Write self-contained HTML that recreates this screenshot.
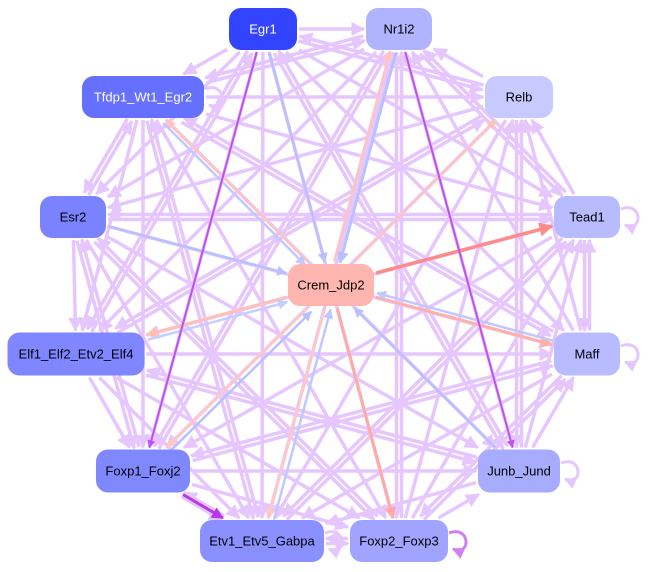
<!DOCTYPE html>
<html><head><style>
html,body{margin:0;padding:0;background:#fff;width:654px;height:572px;overflow:hidden}
svg{display:block}
text{font-family:"Liberation Sans",sans-serif;font-size:13px;text-anchor:middle;dominant-baseline:central}
</style></head><body>
<svg id="s" width="654" height="572" xmlns="http://www.w3.org/2000/svg">
<defs></defs>
<g id="e"></g>
<g id="n"></g>
</svg>
<script>
const N={
Egr1:[263,29,68,42,'#3344ff','#fff'],
Nr1i2:[399,29,66,42,'#b0b4ff','#000'],
Tfdp1_Wt1_Egr2:[143,97,122,42,'#6670ff','#fff'],
Relb:[519,97,68,42,'#c8caff','#000'],
Esr2:[73,217,66,42,'#7b82ff','#000'],
Tead1:[587,217,66,42,'#b8bbff','#000'],
Crem_Jdp2:[331,285,86,42,'#ffb6b0','#000'],
Elf1_Elf2_Etv2_Elf4:[76,354,137,43,'#7f86ff','#000'],
Maff:[587,354,66,43,'#b8bbff','#000'],
Foxp1_Foxj2:[143,471,94,43,'#8088ff','#000'],
Junb_Jund:[519,471,82,43,'#a8acff','#000'],
Etv1_Etv5_Gabpa:[262,541,124,42,'#8a90ff','#000'],
Foxp2_Foxp3:[399,541,98,42,'#a0a4ff','#000']};
const S='http://www.w3.org/2000/svg';
const svg=document.getElementById('s'),defs=svg.querySelector('defs'),E=document.getElementById('e'),G=document.getElementById('n');
const marks={};
function mk(c){if(marks[c])return marks[c];const id='m'+Object.keys(marks).length;
 const m=document.createElementNS(S,'marker');m.setAttribute('id',id);m.setAttribute('viewBox','0 0 10 10');
 m.setAttribute('refX','9');m.setAttribute('refY','5');m.setAttribute('markerWidth','4');m.setAttribute('markerHeight','4');
 m.setAttribute('markerUnits','strokeWidth');m.setAttribute('orient','auto');
 m.innerHTML='<path d="M0,0L10,5L0,10z" fill="'+c+'"/>';defs.appendChild(m);marks[c]=id;return id;}
function clip(n,dx,dy){const hw=n[2]/2+2,hh=n[3]/2+2;const t=Math.min(Math.abs(dx)>1e-6?hw/Math.abs(dx):1e9,Math.abs(dy)>1e-6?hh/Math.abs(dy):1e9);return [n[0]+dx*t,n[1]+dy*t];}
function edge(a,b,c,w,off){const A=N[a],B=N[b];let dx=B[0]-A[0],dy=B[1]-A[1];const L=Math.hypot(dx,dy);dx/=L;dy/=L;
 const o=off||0;const px=-dy*o,py=dx*o;
 const p=clip(A,dx,dy),q=clip(B,-dx,-dy);
 const l=document.createElementNS(S,'line');
 l.setAttribute('x1',p[0]+px);l.setAttribute('y1',p[1]+py);l.setAttribute('x2',q[0]+px);l.setAttribute('y2',q[1]+py);
 l.setAttribute('stroke',c);l.setAttribute('stroke-width',w);l.setAttribute('marker-end','url(#'+mk(c)+')');E.appendChild(l);}
const P='#e6c6ff';
const names=Object.keys(N).filter(k=>k!='Crem_Jdp2');
const skip=new Set(['Egr1|Nr1i2x']);
for(let i=0;i<names.length;i++)for(let j=i+1;j<names.length;j++){
 const a=names[i],b=names[j];
 if((i+j)%3==0){edge(a,b,P,3.5,2.5);edge(b,a,P,3.5,2.5);}else if((i*j)%2==0)edge(a,b,P,3.5);else edge(b,a,P,3.5);}
// special edges
edge('Egr1','Crem_Jdp2','#b8c0ff',2.5);
edge('Nr1i2','Crem_Jdp2','#b8c0ff',3,-3);
edge('Crem_Jdp2','Nr1i2','#ffc4c0',2.5,-3);
edge('Crem_Jdp2','Relb','#ffc4c0',2.5);
edge('Crem_Jdp2','Tead1','#ff8a8a',3.5);
edge('Crem_Jdp2','Maff','#ffb0a8',3);
edge('Maff','Crem_Jdp2','#c0c8ff',2.5,4);
edge('Junb_Jund','Crem_Jdp2','#b8c0ff',2.5);
edge('Crem_Jdp2','Foxp2_Foxp3','#ffaaa4',3);
edge('Crem_Jdp2','Etv1_Etv5_Gabpa','#ffc8c0',2.5);
edge('Etv1_Etv5_Gabpa','Crem_Jdp2','#c0c8ff',2.5,6);
edge('Crem_Jdp2','Foxp1_Foxj2','#ffc8c0',2.5);
edge('Foxp1_Foxj2','Crem_Jdp2','#b8c0ff',2.5,5);
edge('Crem_Jdp2','Elf1_Elf2_Etv2_Elf4','#ffc0b8',3);
edge('Elf1_Elf2_Etv2_Elf4','Crem_Jdp2','#c8ccff',2.5,5);
edge('Esr2','Crem_Jdp2','#b8c0ff',2.5);
edge('Crem_Jdp2','Tfdp1_Wt1_Egr2','#ffc4c0',2.5);
edge('Tfdp1_Wt1_Egr2','Crem_Jdp2','#c0c8ff',2.5,4);
edge('Egr1','Foxp1_Foxj2','#c050f0',2);
edge('Nr1i2','Junb_Jund','#c050f0',2);
edge('Foxp1_Foxj2','Etv1_Etv5_Gabpa','#b838f0',3);
// self loops
function loop(k,c,side){const n=N[k];const p=document.createElementNS(S,'path');let d;
 if(side=='r'){const x=n[0]+n[2]/2+1,y=n[1];d=`M${x},${y-8} C${x+22},${y-16} ${x+22},${y+16} ${x+4},${y+8}`;}
 else{const x=n[0]+n[2]/2+1,y=n[1];d=`M${x},${y-8} C${x+22},${y-14} ${x+22},${y+14} ${x+4},${y+8}`;}
 p.setAttribute('d',d);p.setAttribute('fill','none');p.setAttribute('stroke',c);p.setAttribute('stroke-width',3);p.setAttribute('marker-end','url(#'+mk(c)+')');E.appendChild(p);}
loop('Tead1',P,'r');loop('Maff',P,'r');loop('Junb_Jund',P,'r');loop('Foxp2_Foxp3','#d080f0','r');loop('Tfdp1_Wt1_Egr2',P,'r');loop('Etv1_Etv5_Gabpa',P,'r');
for(const k in N){const n=N[k];
 const r=document.createElementNS(S,'rect');r.setAttribute('x',n[0]-n[2]/2);r.setAttribute('y',n[1]-n[3]/2);r.setAttribute('width',n[2]);r.setAttribute('height',n[3]);r.setAttribute('rx',12);r.setAttribute('fill',n[4]);G.appendChild(r);
 const t=document.createElementNS(S,'text');t.setAttribute('x',n[0]);t.setAttribute('y',n[1]);t.setAttribute('fill',n[5]);t.textContent=k;G.appendChild(t);}
</script>
</body></html>
